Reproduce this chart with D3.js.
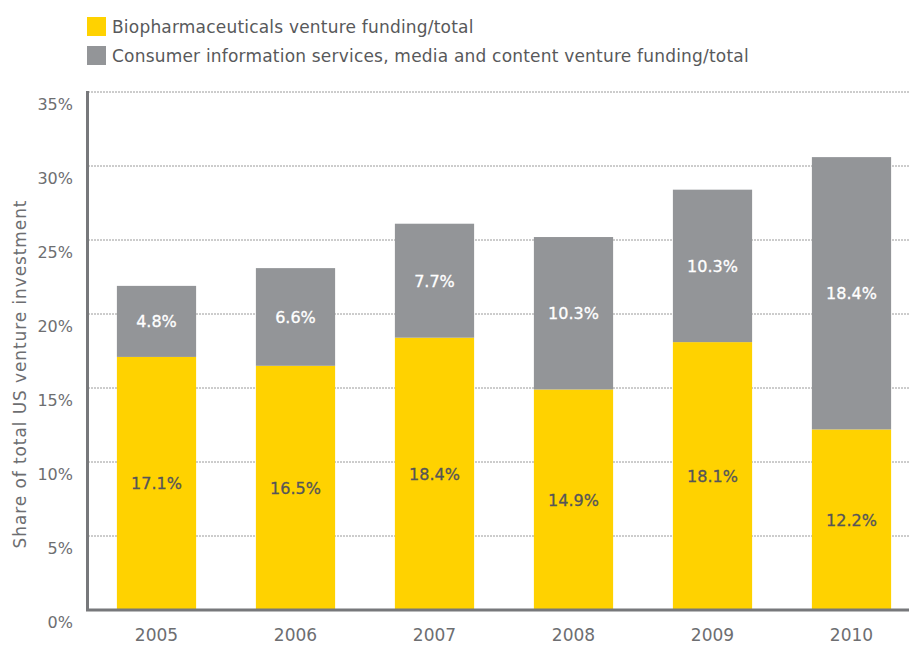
<!DOCTYPE html>
<html><head><meta charset="utf-8">
<script src="https://cdn.jsdelivr.net/npm/d3@7"></script>
<style>body{margin:0;background:#fff}text{font-family:"DejaVu Sans",sans-serif}</style>
</head><body><svg id="c" width="909" height="647"></svg>
<script>
const years = ["2005","2006","2007","2008","2009","2010"];
const bio = [17.1, 16.5, 18.4, 14.9, 18.1, 12.2];
const consumer = [4.8, 6.6, 7.7, 10.3, 10.3, 18.4];
const yTicks = [0,5,10,15,20,25,30,35];
const seriesNames = ["Biopharmaceuticals venture funding/total","Consumer information services, media and content venture funding/total"];
const colors = ["#FFD200","#939598"];
const labelColors = ["#555559","#ffffff"];

const svg = d3.select("#c");
const x = d3.scaleBand().domain(years).range([87,921]).paddingInner(0.43).paddingOuter(0.215);
const y = d3.scaleLinear().domain([0,35]).range([610,92]);

// gridlines
svg.append("g").selectAll("line").data(yTicks.filter(d=>d>0)).join("line")
  .attr("x1",88).attr("x2",910).attr("y1",d=>y(d)).attr("y2",d=>y(d))
  .attr("stroke","#9a9a9a").attr("stroke-width",1).attr("stroke-dasharray","2,1");

// y tick labels
svg.append("g").selectAll("text").data(yTicks).join("text")
  .attr("x",73).attr("y",d=>y(d)+18).attr("text-anchor","end")
  .attr("font-size",16).attr("fill","#6d6e71").text(d=>d+"%");

// stacked data
const rows = years.map((yr,i)=>({year:yr,bio:bio[i],consumer:consumer[i]}));
const stack = d3.stack().keys(["bio","consumer"])(rows);
const g = svg.append("g");
stack.forEach((layer,li)=>{
  g.append("g").selectAll("rect").data(layer).join("rect")
    .attr("x",d=>x(d.data.year)).attr("width",x.bandwidth())
    .attr("y",d=>y(d[1])).attr("height",d=>y(d[0])-y(d[1]))
    .attr("fill",colors[li]);
  g.append("g").selectAll("text").data(layer).join("text")
    .attr("x",d=>x(d.data.year)+x.bandwidth()/2)
    .attr("y",d=>(y(d[0])+y(d[1]))/2+6)
    .attr("text-anchor","middle").attr("font-size",16)
    .attr("fill",labelColors[li]).attr("stroke",labelColors[li]).attr("stroke-width",0.3)
    .text(d=>(d[1]-d[0]).toFixed(1)+"%");
});

// axes lines
svg.append("line").attr("x1",87.5).attr("x2",87.5).attr("y1",91).attr("y2",611)
  .attr("stroke","#77787b").attr("stroke-width",3);
svg.append("line").attr("x1",86).attr("x2",910).attr("y1",610).attr("y2",610)
  .attr("stroke","#77787b").attr("stroke-width",3);

// x labels
svg.append("g").selectAll("text").data(years).join("text")
  .attr("x",d=>x(d)+x.bandwidth()/2).attr("y",641)
  .attr("text-anchor","middle").attr("font-size",17).attr("fill","#6d6e71").text(d=>d);

// y title
svg.append("text").attr("transform","translate(26,374) rotate(-90)")
  .attr("text-anchor","middle").attr("font-size",17).attr("letter-spacing",0.9).attr("fill","#6d6e71")
  .text("Share of total US venture investment");

// legend
const lg = svg.append("g");
seriesNames.forEach((n,i)=>{
  lg.append("rect").attr("x",87).attr("y",17+i*29).attr("width",19).attr("height",19).attr("fill",colors[i]);
  lg.append("text").attr("x",112).attr("y",33+i*29).attr("font-size",17).attr("letter-spacing",0.2)
    .attr("fill","#58595b").text(n);
});
</script></body></html>
